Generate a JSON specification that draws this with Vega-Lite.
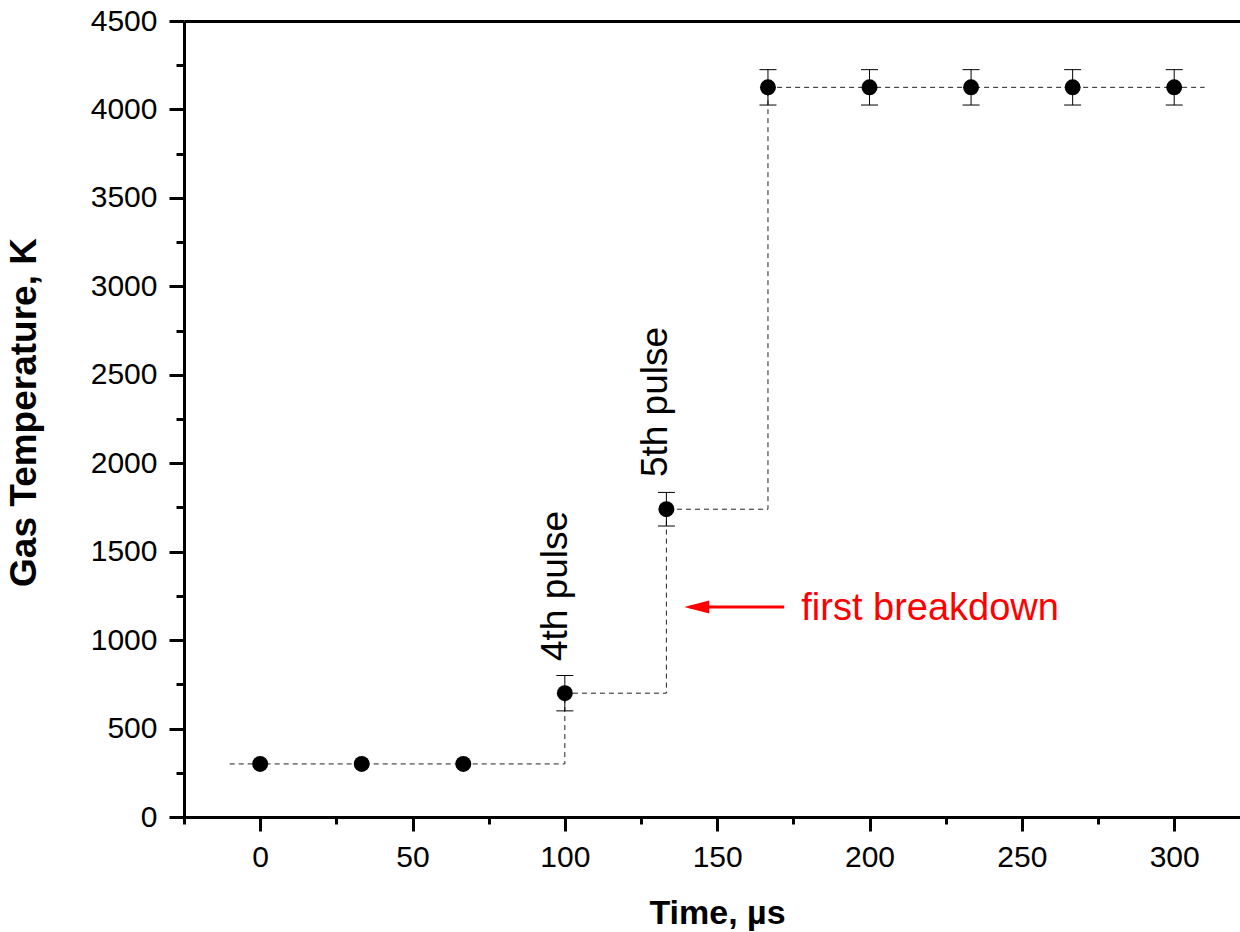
{
  "$schema": "https://vega.github.io/schema/vega-lite/v6.json",
  "width": 1056,
  "height": 796,
  "autosize": {"type": "none"},
  "padding": {"left": 184, "top": 21, "right": 0, "bottom": 115},
  "background": "white",
  "config": {"view": {"stroke": null}},
  "datasets": {
    "points": [
      {"t": 0, "T": 300}, {"t": 33.33, "T": 300}, {"t": 66.67, "T": 300},
      {"t": 100, "T": 700}, {"t": 133.33, "T": 1740}, {"t": 166.67, "T": 4125},
      {"t": 200, "T": 4125}, {"t": 233.33, "T": 4125}, {"t": 266.67, "T": 4125}, {"t": 300, "T": 4125}
    ],
    "errors": [
      {"t": 100, "lo": 600, "hi": 800}, {"t": 133.33, "lo": 1645, "hi": 1835},
      {"t": 166.67, "lo": 4025, "hi": 4225}, {"t": 200, "lo": 4025, "hi": 4225},
      {"t": 233.33, "lo": 4025, "hi": 4225}, {"t": 266.67, "lo": 4025, "hi": 4225},
      {"t": 300, "lo": 4025, "hi": 4225}
    ],
    "steps": [
      {"t": -10, "T": 300}, {"t": 100, "T": 700}, {"t": 133.33, "T": 1740},
      {"t": 166.67, "T": 4125}, {"t": 310, "T": 4125}
    ],
    "pulses": [
      {"t": 100.7, "T": 1306, "text": "4th pulse"},
      {"t": 133.5, "T": 2346, "text": "5th pulse"}
    ],
    "note": [{"t": 177.6, "T": 1114, "text": "first breakdown"}],
    "arrow": [{"t": 141, "t2": 172, "T": 1187}],
    "arrowhead": [{"t": 143.3, "T": 1187}]
  },
  "resolve": {"axis": {"x": "independent", "y": "independent"}},
  "layer": [
    {
      "data": {"name": "steps"},
      "mark": {"type": "line", "interpolate": "step-after", "strokeDash": [5, 4], "strokeWidth": 1, "color": "#222222"},
      "encoding": {
        "x": {
          "field": "t", "type": "quantitative",
          "scale": {"domain": [-25, 321.6], "nice": false, "zero": false},
          "axis": {
            "orient": "bottom",
            "values": [-25, 0, 25, 50, 75, 100, 125, 150, 175, 200, 225, 250, 275, 300],
            "format": "d",
            "labelExpr": "datum.value % 50 === 0 ? datum.label : ''",
            "labelOverlap": false, "labelFlush": false,
            "tickSize": {"condition": {"test": "datum.value % 50 !== 0", "value": 7}, "value": 14},
            "tickWidth": 3, "tickColor": "black",
            "domainColor": "black", "domainWidth": 3,
            "grid": false,
            "labelFont": "Liberation Sans", "labelFontSize": 30, "labelColor": "black", "labelPadding": 11,
            "title": "Time, µs",
            "titleFont": "Liberation Sans", "titleFontSize": 34, "titleFontWeight": "bold", "titleColor": "black",
            "titleX": 533, "titleY": 106, "titleBaseline": "alphabetic", "titleAlign": "center"
          }
        },
        "y": {
          "field": "T", "type": "quantitative",
          "scale": {"domain": [0, 4500], "nice": false},
          "axis": {
            "orient": "left",
            "values": [0, 250, 500, 750, 1000, 1250, 1500, 1750, 2000, 2250, 2500, 2750, 3000, 3250, 3500, 3750, 4000, 4250, 4500],
            "format": "d",
            "labelExpr": "datum.value % 500 === 0 ? datum.label : ''",
            "labelOverlap": false, "labelFlush": false,
            "tickSize": {"condition": {"test": "datum.value % 500 !== 0", "value": 8}, "value": 15},
            "tickWidth": 3, "tickColor": "black",
            "domainColor": "black", "domainWidth": 3,
            "grid": false,
            "labelFont": "Liberation Sans", "labelFontSize": 30, "labelColor": "black", "labelPadding": 12,
            "title": "Gas Temperature, K",
            "titleFont": "Liberation Sans", "titleFontSize": 37, "titleFontWeight": "bold", "titleColor": "black",
            "titleAngle": 270, "titleX": -149, "titleY": 391, "titleBaseline": "alphabetic", "titleAlign": "center"
          }
        }
      }
    },
    {
      "data": {"name": "errors"},
      "mark": {"type": "rule", "strokeWidth": 1, "color": "black"},
      "encoding": {
        "x": {"field": "t", "type": "quantitative", "axis": null},
        "y": {"field": "lo", "type": "quantitative", "axis": null},
        "y2": {"field": "hi"}
      }
    },
    {
      "data": {"name": "errors"},
      "mark": {"type": "tick", "orient": "horizontal", "size": 17, "thickness": 1, "color": "black", "opacity": 1},
      "encoding": {
        "x": {"field": "t", "type": "quantitative", "axis": null},
        "y": {"field": "lo", "type": "quantitative", "axis": null}
      }
    },
    {
      "data": {"name": "errors"},
      "mark": {"type": "tick", "orient": "horizontal", "size": 17, "thickness": 1, "color": "black", "opacity": 1},
      "encoding": {
        "x": {"field": "t", "type": "quantitative", "axis": null},
        "y": {"field": "hi", "type": "quantitative", "axis": null}
      }
    },
    {
      "data": {"name": "points"},
      "mark": {"type": "point", "filled": true, "color": "black", "opacity": 1, "size": 255, "strokeWidth": 0},
      "encoding": {
        "x": {
          "field": "t", "type": "quantitative",
          "axis": {"orient": "top", "labels": false, "ticks": false, "title": null, "grid": false, "domain": true, "domainWidth": 3, "domainColor": "black"}
        },
        "y": {"field": "T", "type": "quantitative", "axis": null}
      }
    },
    {
      "data": {"name": "pulses"},
      "mark": {"type": "text", "angle": 270, "align": "center", "baseline": "alphabetic", "font": "Liberation Sans", "fontSize": 37, "color": "black"},
      "encoding": {
        "x": {"field": "t", "type": "quantitative", "axis": null},
        "y": {"field": "T", "type": "quantitative", "axis": null},
        "text": {"field": "text"}
      }
    },
    {
      "data": {"name": "note"},
      "mark": {"type": "text", "align": "left", "baseline": "alphabetic", "font": "Liberation Sans", "fontSize": 38, "color": "#ff0000"},
      "encoding": {
        "x": {"field": "t", "type": "quantitative", "axis": null},
        "y": {"field": "T", "type": "quantitative", "axis": null},
        "text": {"field": "text"}
      }
    },
    {
      "data": {"name": "arrow"},
      "mark": {"type": "rule", "strokeWidth": 3, "color": "#ff0000"},
      "encoding": {
        "x": {"field": "t", "type": "quantitative", "axis": null},
        "x2": {"field": "t2"},
        "y": {"field": "T", "type": "quantitative", "axis": null}
      }
    },
    {
      "data": {"name": "arrowhead"},
      "mark": {"type": "point", "shape": "M -1 0 L 1 -0.52 L 1 0.52 Z", "filled": true, "color": "#ff0000", "opacity": 1, "size": 625, "strokeWidth": 0},
      "encoding": {
        "x": {"field": "t", "type": "quantitative", "axis": null},
        "y": {"field": "T", "type": "quantitative", "axis": null}
      }
    }
  ]
}
